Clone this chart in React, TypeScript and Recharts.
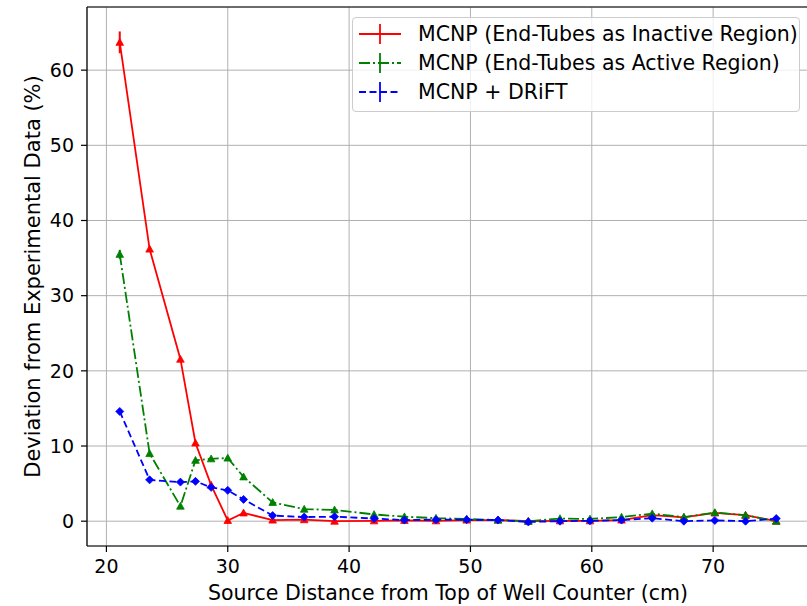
import React from 'react';
import { LineChart, Line, XAxis, YAxis, CartesianGrid, ErrorBar, ReferenceLine, Legend } from 'recharts';

const xValues = [21.1, 23.56, 26.1, 27.34, 28.63, 30.0, 31.3, 33.7, 36.3, 38.8, 42.06, 44.56, 47.16, 49.69, 52.27, 54.77, 57.38, 59.85, 62.45, 64.98, 67.59, 70.14, 72.67, 75.2];
const inactiveValues = [63.7, 36.2, 21.55, 10.4, 4.8, 0.1, 1.1, 0.15, 0.2, 0.0, 0.05, 0.1, 0.05, 0.15, 0.15, 0.0, 0.05, 0.05, 0.15, 0.8, 0.5, 1.1, 0.8, 0.0];
const inactiveErrors = [1.45, 0.4, 0.3, 0.25, 0.2, 0.1, 0.1, 0.1, 0.1, 0.1, 0.1, 0.1, 0.1, 0.1, 0.1, 0.1, 0.1, 0.1, 0.1, 0.1, 0.1, 0.1, 0.1, 0.1];
const activeValues = [35.5, 9.0, 2.0, 8.1, 8.3, 8.4, 5.9, 2.5, 1.6, 1.5, 0.9, 0.6, 0.4, 0.3, 0.15, 0.0, 0.35, 0.3, 0.55, 1.0, 0.55, 1.15, 0.8, 0.0];
const activeErrors = [0.6, 0.3, 0.2, 0.2, 0.2, 0.2, 0.1, 0.1, 0.1, 0.1, 0.1, 0.1, 0.1, 0.1, 0.1, 0.1, 0.1, 0.1, 0.1, 0.1, 0.1, 0.1, 0.1, 0.1];
const driftValues = [14.6, 5.5, 5.2, 5.3, 4.5, 4.1, 2.9, 0.75, 0.55, 0.6, 0.35, 0.15, 0.2, 0.2, 0.15, -0.1, 0.0, 0.05, 0.15, 0.4, 0.0, 0.1, 0.0, 0.35];
const driftErrors = [0.3, 0.2, 0.2, 0.2, 0.2, 0.1, 0.1, 0.1, 0.1, 0.1, 0.1, 0.1, 0.1, 0.1, 0.1, 0.1, 0.1, 0.1, 0.1, 0.1, 0.1, 0.1, 0.1, 0.1];

const xTicks = [20, 30, 40, 50, 60, 70];
const yTicks = [0, 10, 20, 30, 40, 50, 60];
const seriesNames = [
  'MCNP (End-Tubes as Inactive Region)',
  'MCNP (End-Tubes as Active Region)',
  'MCNP + DRiFT',
];

const data = xValues.map((x, i) => ({
  x,
  inactive: inactiveValues[i],
  inactiveErr: inactiveErrors[i],
  active: activeValues[i],
  activeErr: activeErrors[i],
  drift: driftValues[i],
  driftErr: driftErrors[i],
}));

const FONT = '"DejaVu Sans", sans-serif';
const RED = '#ff0000';
const GREEN = '#008000';
const BLUE = '#0000ff';
const GREEN_DASH = '11 3 2 3';
const BLUE_DASH = '7 3.5';

const triangleDot = (color: string) => (props: any) => {
  const { cx, cy, index } = props;
  if (cx == null || cy == null) return <g key={`t-${color}-${index}`} />;
  const s = 3.8;
  const d = `M${cx},${cy - s} L${cx - s},${cy + s * 0.8} L${cx + s},${cy + s * 0.8} Z`;
  return <path key={`t-${color}-${index}`} d={d} fill={color} stroke={color} strokeWidth={0.8} />;
};

const diamondDot = (color: string) => (props: any) => {
  const { cx, cy, index } = props;
  if (cx == null || cy == null) return <g key={`d-${color}-${index}`} />;
  const s = 4;
  const d = `M${cx},${cy - s} L${cx + s},${cy} L${cx},${cy + s} L${cx - s},${cy} Z`;
  return <path key={`d-${color}-${index}`} d={d} fill={color} stroke={color} strokeWidth={0.8} />;
};

const YLabel = (props: any) => {
  const vb = props.viewBox || { x: 0, y: 7, width: 87, height: 539 };
  const x = vb.x + 33;
  const y = vb.y + vb.height / 2;
  return (
    <text
      x={x}
      y={y}
      transform={`rotate(-90 ${x} ${y})`}
      textAnchor="middle"
      dominantBaseline="central"
      fontFamily={FONT}
      fontSize={21}
      fill="#000"
    >
      Deviation from Experimental Data (%)
    </text>
  );
};

const legendStyles = [
  { color: RED, dash: undefined as string | undefined },
  { color: GREEN, dash: GREEN_DASH },
  { color: BLUE, dash: BLUE_DASH },
];

const LegendBox = () => (
  <div
    style={{
      border: '1px solid #cccccc',
      borderRadius: 4,
      background: 'rgba(255,255,255,0.8)',
      padding: '1px 4px 5px 5px',
      fontFamily: FONT,
      fontSize: 20.5,
      color: '#000',
      boxSizing: 'border-box',
      width: 448,
    }}
  >
    {seriesNames.map((name, i) => (
      <div key={name} style={{ display: 'flex', alignItems: 'center', height: 29 }}>
        <svg width={44} height={24} style={{ flex: 'none' }}>
          <line x1={1} y1={12} x2={43} y2={12} stroke={legendStyles[i].color} strokeWidth={1.8} strokeDasharray={legendStyles[i].dash} />
          <line x1={22} y1={2} x2={22} y2={22} stroke={legendStyles[i].color} strokeWidth={1.8} />
        </svg>
        <span style={{ marginLeft: 16, whiteSpace: 'nowrap', lineHeight: '24px' }}>{name}</span>
      </div>
    ))}
  </div>
);

export default function App() {
  return (
    <div style={{ position: 'absolute', left: 0, top: 0, width: 807, height: 606, overflow: 'hidden', background: '#fff' }}>
      <LineChart width={812} height={606} data={data} margin={{ top: 7, right: 3, left: 0, bottom: 0 }}>
        <CartesianGrid stroke="#b0b0b0" strokeWidth={1} />
        <XAxis
          dataKey="x"
          type="number"
          domain={[18.4, 77.9]}
          ticks={xTicks}
          allowDataOverflow
          height={60}
          tickSize={6}
          tickMargin={8}
          axisLine={{ stroke: '#000', strokeWidth: 1.2 }}
          tickLine={{ stroke: '#000', strokeWidth: 1.2 }}
          tick={{ fontFamily: FONT, fontSize: 19, fill: '#000' }}
          label={{ value: 'Source Distance from Top of Well Counter (cm)', position: 'insideBottom', offset: 6, fontFamily: FONT, fontSize: 20.5, fill: '#000' }}
        />
        <YAxis
          type="number"
          domain={[-3.3, 68.4]}
          ticks={yTicks}
          allowDataOverflow
          width={87}
          tickSize={6}
          tickMargin={7}
          axisLine={{ stroke: '#000', strokeWidth: 1.2 }}
          tickLine={{ stroke: '#000', strokeWidth: 1.2 }}
          tick={{ fontFamily: FONT, fontSize: 19, fill: '#000' }}
          label={(p: any) => <YLabel {...p} />}
        />
        <ReferenceLine y={68.4} stroke="#000" strokeWidth={1.2} ifOverflow="visible" />
        <Line
          dataKey="inactive"
          stroke={RED}
          strokeWidth={1.8}
          dot={triangleDot(RED)}
          activeDot={false}
          isAnimationActive={false}
        >
          <ErrorBar dataKey="inactiveErr" width={0} stroke={RED} strokeWidth={2} direction="y" />
        </Line>
        <Line
          dataKey="active"
          stroke={GREEN}
          strokeWidth={1.8}
          strokeDasharray={GREEN_DASH}
          dot={triangleDot(GREEN)}
          activeDot={false}
          isAnimationActive={false}
        >
          <ErrorBar dataKey="activeErr" width={0} stroke={GREEN} strokeWidth={2} direction="y" />
        </Line>
        <Line
          dataKey="drift"
          stroke={BLUE}
          strokeWidth={1.8}
          strokeDasharray={BLUE_DASH}
          dot={diamondDot(BLUE)}
          activeDot={false}
          isAnimationActive={false}
        >
          <ErrorBar dataKey="driftErr" width={0} stroke={BLUE} strokeWidth={2} direction="y" />
        </Line>
        <Legend
          layout="vertical"
          align="center"
          verticalAlign="middle"
          content={() => <LegendBox />}
          wrapperStyle={{ left: 352, top: 17, width: 448, height: 'auto' }}
        />
      </LineChart>
    </div>
  );
}
